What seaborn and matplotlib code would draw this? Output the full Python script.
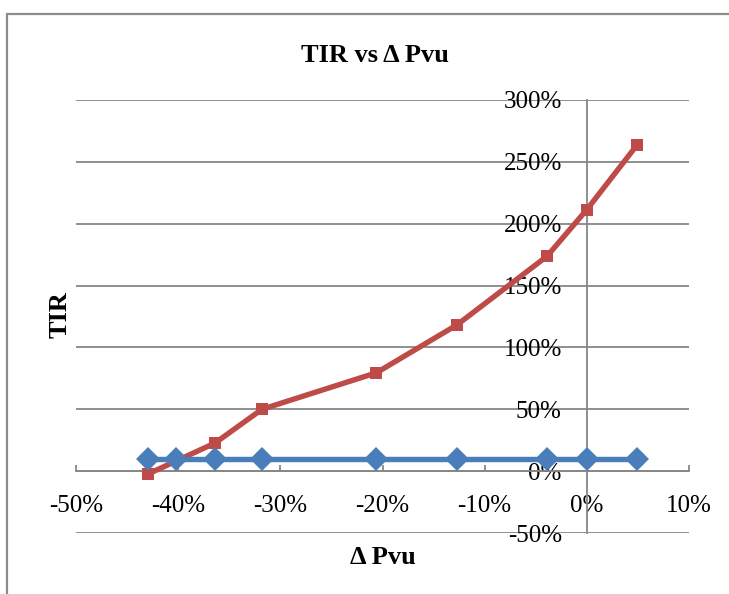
import matplotlib
matplotlib.use("Agg")
import matplotlib.pyplot as plt
import matplotlib.ticker as mticker
from matplotlib.patches import Rectangle
import seaborn as sns

# Change in Pvu (fraction) and the resulting TIR for each scenario
delta_pvu_base = [-0.430, -0.402, -0.364, -0.318, -0.206, -0.127, -0.039, 0.0, 0.049]
tir_base = [0.095, 0.095, 0.095, 0.095, 0.095, 0.095, 0.095, 0.095, 0.095]

delta_pvu_scen = [-0.430, -0.364, -0.318, -0.206, -0.127, -0.039, 0.0, 0.049]
tir_scen = [-0.025, 0.227, 0.500, 0.795, 1.183, 1.737, 2.114, 2.635]

x_ticks = [-0.5, -0.4, -0.3, -0.2, -0.1, 0.0, 0.1]
y_ticks = [-0.5, 0.0, 0.5, 1.0, 1.5, 2.0, 2.5, 3.0]

title_text = "TIR vs Δ Pvu"
x_label = "Δ Pvu"
y_label = "TIR"

sns.set_theme(style="white")
plt.rcParams["font.family"] = ["Liberation Serif", "DejaVu Serif"]
plt.rcParams["text.color"] = "black"
plt.rcParams["xtick.labelcolor"] = "black"
plt.rcParams["ytick.labelcolor"] = "black"

BLUE = "#4A7EBB"
RED = "#BE4B48"
GRID = "#878787"

fig = plt.figure(figsize=(7.29, 5.94), dpi=100)
fig.patch.set_facecolor("white")

# chart-area frame
fig.patches.append(Rectangle((7 / 729, -0.2), 1.2, 1.2 - 14 / 594,
                             transform=fig.transFigure, fill=False,
                             edgecolor="#8c8c8c", lw=1.6, zorder=0))

ax = fig.add_axes([76 / 729, 1 - 533 / 594, (689 - 76) / 729, (533 - 100) / 594])

sns.lineplot(x=delta_pvu_scen, y=tir_scen, ax=ax, color=RED, lw=3.9,
             marker="s", markersize=9, markeredgewidth=0, zorder=3)
sns.lineplot(x=delta_pvu_base, y=tir_base, ax=ax, color=BLUE, lw=3.9,
             marker="D", markersize=12, markeredgewidth=0, zorder=4)

ax.set_xlim(-0.5, 0.1)
ax.set_ylim(-0.5, 3.0)
ax.set_xticks(x_ticks)
ax.set_yticks(y_ticks)
ax.xaxis.set_major_formatter(mticker.FuncFormatter(lambda v, p: f"{v * 100:.0f}%"))
ax.yaxis.set_major_formatter(mticker.FuncFormatter(lambda v, p: f"{v * 100:.0f}%"))

# axes cross at the origin
ax.spines["left"].set_position(("data", 0))
ax.spines["bottom"].set_position(("data", 0))
for side in ("top", "right"):
    ax.spines[side].set_visible(False)
for side in ("left", "bottom"):
    ax.spines[side].set_color(GRID)
    ax.spines[side].set_linewidth(1.3)
    ax.spines[side].set_zorder(1)

ax.yaxis.grid(True, color=GRID, lw=1.3, zorder=0)
ax.xaxis.grid(False)
ax.set_axisbelow(True)

ax.tick_params(axis="x", direction="in", length=4, width=1.3, color=GRID,
               labelsize=18, pad=17, bottom=True, labelcolor="black")
ax.tick_params(axis="y", length=0, labelsize=18, pad=18, left=True,
               labelcolor="black")

ax.set_xlabel("")
ax.set_ylabel("")
fig.text(375 / 729, 1 - 55 / 594, title_text, ha="center", va="center",
         fontsize=19, fontweight="bold", color="black")
fig.text(383 / 729, 1 - 557 / 594, x_label, ha="center", va="center",
         fontsize=19, fontweight="bold", color="black")
fig.text(60 / 729, 1 - 315 / 594, y_label, ha="center", va="center",
         fontsize=19, fontweight="bold", rotation=90, color="black")

fig.savefig("out.png", dpi=100, facecolor="white")
